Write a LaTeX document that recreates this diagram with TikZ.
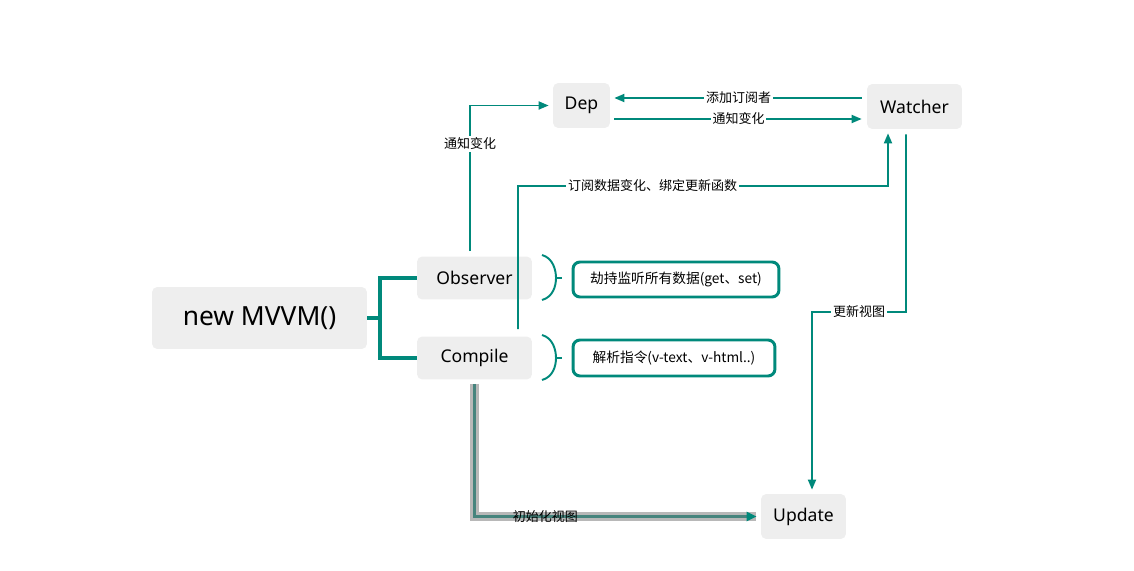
\documentclass[tikz,border=0pt]{standalone}
\usepackage{fontspec}
\setmainfont{Noto Sans}
\newfontfamily\cjk{Noto Sans CJK SC}
\usetikzlibrary{arrows.meta,positioning}
\definecolor{mvteal}{RGB}{0,137,123}
\definecolor{mvgray}{RGB}{238,238,238}
\begin{document}
\begin{tikzpicture}[x=0.02cm,y=-0.02cm,
  box/.style={fill=mvgray,rounded corners=3pt,font=\fontsize{10}{12}\selectfont},
  note/.style={draw=mvteal,line width=1.7pt,fill=white,rounded corners=4pt,
    font=\cjk\fontsize{7.8}{9}\selectfont},
  tree/.style={draw=mvteal,line width=1.8pt},
  brc/.style={draw=mvteal,line width=1.1pt},
  arr/.style={draw=mvteal,line width=1pt,-{Triangle[length=0.2cm,width=0.16cm]}},
  lab/.style={fill=white,inner sep=1pt,font=\cjk\fontsize{7.4}{9}\selectfont}]
  \useasboundingbox (0,0) rectangle (1134,571);
  % nodes
  \node[box,minimum width=4.3cm,minimum height=1.24cm,font=\fontsize{15}{18}\selectfont] (mvvm) at (259.5,318) {new MVVM()};
  \node[box,minimum width=2.3cm,minimum height=0.86cm] (obs) at (474.5,278) {Observer};
  \node[box,minimum width=2.3cm,minimum height=0.86cm] (com) at (474.5,358) {Compile};
  \node[box,minimum width=1.14cm,minimum height=0.9cm] (dep) at (581.5,105.5) {Dep};
  \node[box,minimum width=1.9cm,minimum height=0.9cm] (wat) at (914.5,106.5) {Watcher};
  \node[box,minimum width=1.7cm,minimum height=0.9cm] (upd) at (803.5,516.5) {Update};
  \node[note,minimum width=4.12cm,minimum height=0.7cm] (hijack) at (676,279.5) {劫持监听所有数据(get、set)};
  \node[note,minimum width=4.04cm,minimum height=0.72cm] (parse) at (674,358) {解析指令(v-text、v-html..)};
  % tree
  \coordinate (fork) at (380,318);
  \draw[tree] (mvvm.east) -- (fork) |- (obs.west);
  \draw[tree] (fork) |- (com.west);
  % braces
  \draw[brc] (542,255) .. controls (553,258) and (556,270) .. (556,278)
    .. controls (556,286) and (553,297) .. (542,300);
  \draw[brc] (556,278) -- (562,278);
  \draw[brc] (542,335) .. controls (553,338) and (556,350) .. (556,358)
    .. controls (556,366) and (553,377) .. (542,380);
  \draw[brc] (556,358) -- (562,358);
  % arrows
  \draw[arr,shorten <=0.1cm,shorten >=0.08cm] ([xshift=-0.09cm]obs.north) |- (dep.west)
    node[lab,pos=0.373] {通知变化};
  \draw[arr,shorten <=0.1cm,shorten >=0.08cm] ([yshift=0.17cm]wat.west) -- ([yshift=0.17cm]wat.west -| dep.east)
    node[lab,midway] {添加订阅者};
  \draw[arr,shorten <=0.08cm,shorten >=0.1cm] ([yshift=-0.27cm]dep.east) -- ([yshift=-0.27cm]dep.east -| wat.west)
    node[lab,midway] {通知变化};
  \coordinate (csub) at (518,186);
  \draw[arr,shorten <=0.14cm,shorten >=0.08cm] ([xshift=0.87cm]com.north) -- (csub) -| ([xshift=-0.53cm]wat.south)
    node[lab,pos=0.182] {订阅数据变化、绑定更新函数};
  \coordinate (wup) at (906,312);
  \draw[arr,shorten <=0.1cm,shorten >=0.08cm] ([xshift=-0.17cm]wat.south) -- (wup) -| ([xshift=0.17cm]upd.north)
    node[lab,pos=0.25] {更新视图};
  \draw[line width=5pt,draw=black!28,shorten <=0.08cm,shorten >=0.1cm] (com.south) |- (upd.west);
  \draw[arr,draw=mvteal!45!gray,line width=1.6pt,shorten <=0.08cm,shorten >=0.08cm,
    -{Triangle[length=0.2cm,width=0.18cm,fill=mvteal,color=mvteal]}] (com.south) |- (upd.west)
    node[pos=0.624,inner sep=0pt,font=\cjk\fontsize{7.4}{9}\selectfont] {初始化视图};
\end{tikzpicture}
\end{document}
